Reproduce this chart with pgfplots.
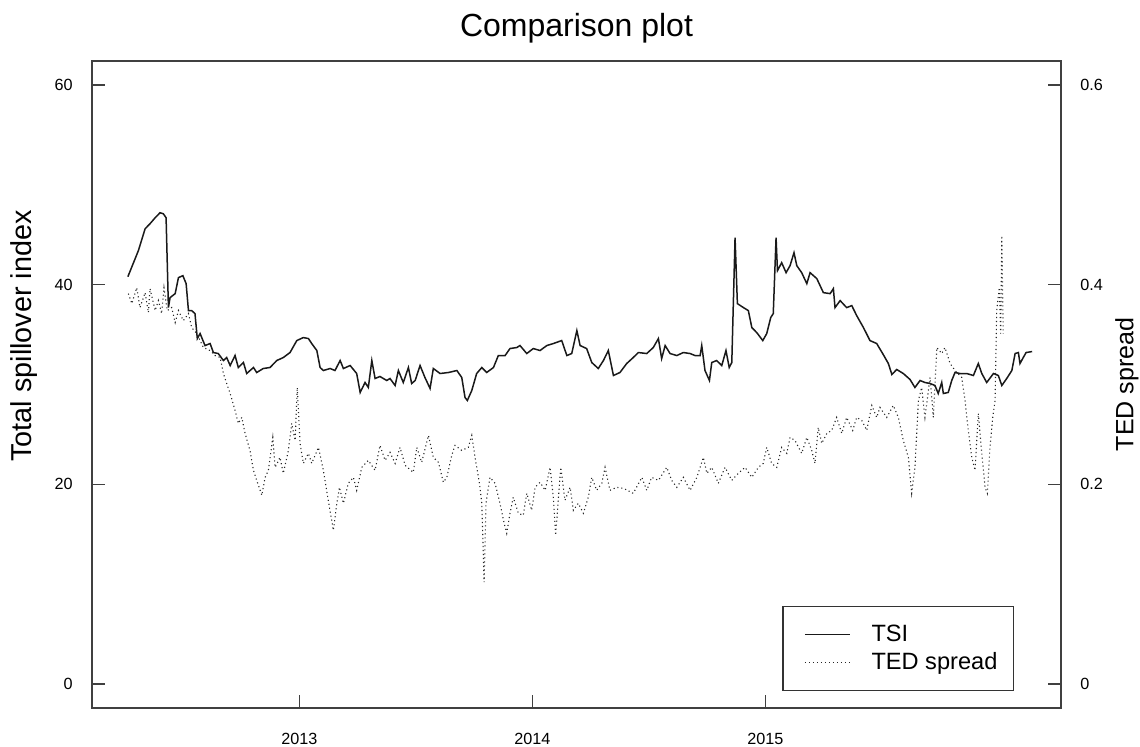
\documentclass[border=0pt]{standalone}
\usepackage{fontspec}
\setmainfont{Liberation Sans}
\usepackage{pgfplots}
\usepackage{pgfplotstable}
\pgfplotsset{compat=1.18}

% total spillover index (left axis)
\pgfplotstableread{
year value
2012.264 40.8
2012.309 43.4
2012.338 45.6
2012.359 46.1
2012.381 46.7
2012.402 47.2
2012.416 47.1
2012.428 46.7
2012.438 37.7
2012.445 38.7
2012.467 39.1
2012.481 40.7
2012.500 40.9
2012.514 40.1
2012.524 37.4
2012.538 37.4
2012.552 37.1
2012.562 34.6
2012.574 35.1
2012.595 33.9
2012.617 34.1
2012.631 33.2
2012.652 33.1
2012.674 32.4
2012.688 32.7
2012.703 31.9
2012.724 32.9
2012.738 31.7
2012.760 32.2
2012.774 31.1
2012.803 31.7
2012.817 31.2
2012.845 31.6
2012.874 31.7
2012.903 32.4
2012.931 32.7
2012.960 33.2
2012.989 34.4
2013.017 34.7
2013.039 34.6
2013.053 34.1
2013.075 33.4
2013.089 31.7
2013.103 31.4
2013.132 31.6
2013.153 31.4
2013.175 32.4
2013.189 31.6
2013.218 31.9
2013.246 31.1
2013.261 29.2
2013.282 30.2
2013.296 29.7
2013.311 32.4
2013.325 30.6
2013.346 30.8
2013.375 30.4
2013.389 30.6
2013.411 29.9
2013.425 31.4
2013.446 30.2
2013.468 31.7
2013.482 30.1
2013.497 30.4
2013.518 31.9
2013.539 30.7
2013.561 29.6
2013.575 31.6
2013.604 31.1
2013.640 31.2
2013.676 31.4
2013.697 30.7
2013.711 28.7
2013.721 28.4
2013.740 29.4
2013.761 31.1
2013.783 31.7
2013.804 31.2
2013.833 31.7
2013.854 32.9
2013.883 32.9
2013.904 33.6
2013.933 33.7
2013.947 33.9
2013.976 33.1
2014.004 33.6
2014.033 33.4
2014.062 33.9
2014.090 34.1
2014.126 34.4
2014.148 32.9
2014.169 33.1
2014.191 35.4
2014.205 33.9
2014.233 33.6
2014.255 32.2
2014.283 31.6
2014.305 32.4
2014.326 33.4
2014.348 30.9
2014.376 31.2
2014.405 32.1
2014.433 32.7
2014.455 33.2
2014.491 33.1
2014.519 33.7
2014.541 34.6
2014.555 32.6
2014.570 33.9
2014.591 33.1
2014.620 32.9
2014.648 33.2
2014.677 33.1
2014.698 32.9
2014.720 32.9
2014.727 33.9
2014.741 31.4
2014.760 30.4
2014.770 32.2
2014.791 32.4
2014.813 31.9
2014.831 33.4
2014.845 31.7
2014.856 32.2
2014.870 44.7
2014.880 38.1
2014.906 37.7
2014.927 37.4
2014.942 35.7
2014.963 35.2
2014.989 34.4
2015.006 35.1
2015.023 36.7
2015.034 37.1
2015.046 44.7
2015.052 41.4
2015.070 42.2
2015.089 41.2
2015.106 41.9
2015.123 43.2
2015.135 41.9
2015.156 41.2
2015.178 40.1
2015.192 41.2
2015.221 40.6
2015.249 39.2
2015.278 39.1
2015.292 39.6
2015.299 37.7
2015.321 38.4
2015.349 37.7
2015.371 37.9
2015.392 36.9
2015.421 35.7
2015.449 34.4
2015.478 34.1
2015.506 33.0
2015.528 32.1
2015.543 31.0
2015.564 31.5
2015.592 31.1
2015.621 30.5
2015.642 29.7
2015.664 30.4
2015.685 30.2
2015.707 30.1
2015.728 29.9
2015.742 29.1
2015.757 30.2
2015.764 29.1
2015.785 29.2
2015.800 30.4
2015.814 31.2
2015.836 31.1
2015.864 31.1
2015.893 30.9
2015.914 32.1
2015.929 31.1
2015.950 30.2
2015.979 31.1
2016.000 30.9
2016.015 29.9
2016.036 30.6
2016.058 31.4
2016.072 33.1
2016.086 33.2
2016.093 32.1
2016.107 32.7
2016.119 33.2
2016.145 33.3
}\tsi

% TED spread (right axis)
\pgfplotstableread{
year value
2012.266 0.391
2012.281 0.381
2012.302 0.397
2012.316 0.377
2012.338 0.392
2012.352 0.372
2012.359 0.396
2012.381 0.374
2012.395 0.384
2012.409 0.371
2012.419 0.397
2012.433 0.374
2012.452 0.377
2012.467 0.362
2012.481 0.374
2012.502 0.364
2012.524 0.371
2012.538 0.357
2012.560 0.351
2012.588 0.337
2012.617 0.334
2012.638 0.329
2012.660 0.327
2012.674 0.311
2012.688 0.301
2012.703 0.291
2012.724 0.274
2012.738 0.261
2012.753 0.267
2012.767 0.251
2012.788 0.234
2012.803 0.214
2012.817 0.204
2012.839 0.189
2012.853 0.207
2012.867 0.214
2012.886 0.247
2012.896 0.217
2012.917 0.227
2012.931 0.211
2012.953 0.234
2012.967 0.261
2012.982 0.244
2012.991 0.297
2013.003 0.241
2013.017 0.221
2013.039 0.231
2013.053 0.221
2013.082 0.237
2013.103 0.214
2013.124 0.184
2013.146 0.154
2013.161 0.181
2013.172 0.197
2013.189 0.181
2013.210 0.201
2013.232 0.207
2013.246 0.194
2013.268 0.217
2013.296 0.224
2013.325 0.214
2013.346 0.239
2013.368 0.224
2013.389 0.232
2013.411 0.221
2013.432 0.237
2013.454 0.219
2013.489 0.212
2013.504 0.237
2013.525 0.222
2013.554 0.249
2013.575 0.227
2013.597 0.222
2013.618 0.202
2013.633 0.207
2013.654 0.229
2013.668 0.239
2013.697 0.234
2013.725 0.237
2013.740 0.249
2013.754 0.227
2013.773 0.201
2013.783 0.181
2013.793 0.102
2013.801 0.181
2013.818 0.207
2013.840 0.201
2013.861 0.181
2013.879 0.161
2013.890 0.151
2013.904 0.171
2013.918 0.187
2013.940 0.171
2013.961 0.169
2013.976 0.191
2013.997 0.174
2014.012 0.197
2014.033 0.202
2014.055 0.194
2014.076 0.217
2014.090 0.187
2014.100 0.149
2014.112 0.187
2014.122 0.217
2014.140 0.184
2014.162 0.197
2014.176 0.174
2014.197 0.181
2014.219 0.171
2014.240 0.187
2014.255 0.207
2014.276 0.194
2014.298 0.201
2014.312 0.217
2014.333 0.194
2014.362 0.197
2014.391 0.196
2014.433 0.191
2014.470 0.207
2014.491 0.194
2014.512 0.207
2014.541 0.204
2014.577 0.217
2014.598 0.204
2014.620 0.197
2014.648 0.207
2014.677 0.194
2014.706 0.207
2014.734 0.227
2014.749 0.211
2014.770 0.217
2014.798 0.201
2014.827 0.217
2014.856 0.204
2014.884 0.211
2014.913 0.217
2014.942 0.207
2014.970 0.217
2014.991 0.221
2015.006 0.237
2015.027 0.221
2015.049 0.217
2015.070 0.237
2015.092 0.231
2015.106 0.247
2015.127 0.244
2015.156 0.231
2015.178 0.247
2015.199 0.234
2015.213 0.221
2015.227 0.257
2015.242 0.241
2015.264 0.251
2015.285 0.254
2015.306 0.267
2015.328 0.251
2015.349 0.267
2015.375 0.254
2015.392 0.267
2015.414 0.264
2015.435 0.254
2015.457 0.279
2015.478 0.267
2015.492 0.277
2015.521 0.267
2015.549 0.279
2015.571 0.267
2015.592 0.244
2015.614 0.227
2015.628 0.191
2015.642 0.217
2015.657 0.284
2015.671 0.297
2015.685 0.267
2015.707 0.307
2015.721 0.267
2015.736 0.337
2015.757 0.331
2015.771 0.337
2015.793 0.321
2015.814 0.314
2015.843 0.307
2015.857 0.284
2015.871 0.254
2015.886 0.227
2015.900 0.214
2015.914 0.271
2015.929 0.231
2015.943 0.197
2015.953 0.191
2015.964 0.237
2015.976 0.267
2015.986 0.284
2015.993 0.374
2016.004 0.397
2016.010 0.351
2016.015 0.449
2016.021 0.351
}\ted

\pgfplotsset{
  base/.style={
    at={(46pt,19.5pt)}, anchor=south west,
    scale only axis, width=484.5pt, height=323.5pt,
    xmin=2012.110, xmax=2016.269,
    axis line style={black!75, line width=0.6pt},
    tick style={black!75, line width=0.6pt},
    tick align=inside, major tick length=6.5pt,
    /pgf/number format/assume math mode=true,
    tick label style={font=\fontsize{8.1}{9}\selectfont},
    label style={font=\fontsize{14.4}{16}\selectfont},
  },
}

\begin{document}
\begin{tikzpicture}
\useasboundingbox (0,0) rectangle (570pt,373.5pt);

\begin{axis}[base,
  ymin=-2.4, ymax=62.4,
  xtick={2013,2014,2015}, xticklabels={2013,2014,2015},
  xtick pos=left,
  xticklabel style={anchor=center, yshift=-15.25pt},
  ytick={0,20,40,60}, yticklabels={0,20,40,60},
  ytick pos=left,
  yticklabel style={anchor=east, inner sep=0pt, xshift=-9.5pt},
  ylabel={Total spillover index},
  ylabel style={at={(axis description cs:-0.0702,0.575)}, anchor=center},
  title={Comparison plot},
  title style={at={(0.5,1)}, anchor=base, yshift=6pt, font=\fontsize{16}{18}\selectfont},
]
\addplot[black!90, line width=0.75pt] table[x=year, y=value] {\tsi};
\end{axis}

\begin{axis}[base,
  ymin=-0.024, ymax=0.624,
  xtick=\empty,
  ytick={0,0.2,0.4,0.6}, yticklabels={0,0.2,0.4,0.6},
  ytick pos=right, yticklabel pos=right,
  yticklabel style={anchor=west, inner sep=0pt, xshift=9.5pt},
  ylabel={TED spread},
  ylabel style={at={(axis description cs:1.0681,0.5)}, anchor=center, font=\fontsize{12.5}{14}\selectfont},
  legend image code/.code={\path (-4.5pt,0pt) (31pt,0pt); \draw[#1] (0pt,0pt) -- (22.5pt,0pt);},
  legend cell align=left,
  legend style={at={(0.9515,0.0263)}, anchor=south east,
    draw=black!80, line width=0.6pt,
    font=\fontsize{11.8}{13}\selectfont,
    inner xsep=6pt, inner ysep=7pt, row sep=0pt},
]
\addlegendimage{black!90, line width=0.75pt}
\addlegendentry{TSI}
\addplot[black!85, line width=0.55pt, dash pattern=on 0.55pt off 1.45pt] table[x=year, y=value] {\ted};
\addlegendentry{TED spread}
\end{axis}
\end{tikzpicture}
\end{document}
